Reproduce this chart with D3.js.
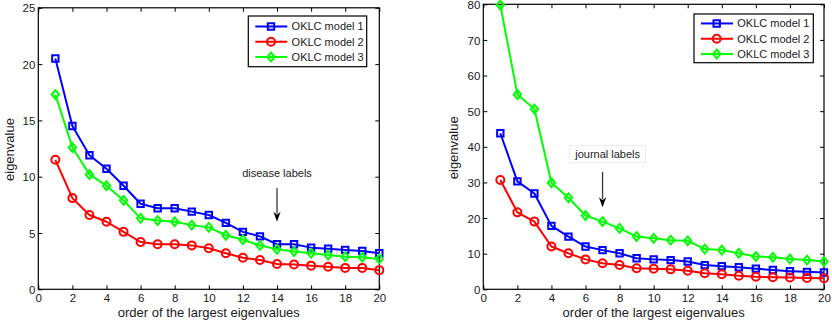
<!DOCTYPE html>
<html>
<head>
<meta charset="utf-8">
<script src="https://cdn.jsdelivr.net/npm/d3@7"></script>
<style>
  body { margin: 0; background: #fff; }
  svg { display: block; }
  text { font-family: "Liberation Sans", Arial, sans-serif; fill: #1a1a1a; }
</style>
</head>
<body>
<svg id="fig" width="832" height="326"></svg>
<script>
// Order of the eigenvalue (x axis) shared by both panels
const orders = [1, 2, 3, 4, 5, 6, 7, 8, 9, 10, 11, 12, 13, 14, 15, 16, 17, 18, 19, 20];
const xTickValues = [0, 2, 4, 6, 8, 10, 12, 14, 16, 18, 20];

// Disease-label eigenvalues
const diseaseModel1 = [20.5, 14.5, 11.9, 10.7, 9.2, 7.6, 7.2, 7.2, 6.9, 6.6, 5.9, 5.1, 4.7, 4.0, 4.0, 3.7, 3.6, 3.5, 3.4, 3.2];
const diseaseModel2 = [11.5, 8.1, 6.6, 6.0, 5.1, 4.2, 4.0, 4.0, 3.9, 3.65, 3.2, 2.8, 2.6, 2.25, 2.2, 2.1, 2.0, 1.9, 1.9, 1.7];
const diseaseModel3 = [17.3, 12.6, 10.2, 9.2, 7.9, 6.3, 6.1, 6.0, 5.7, 5.5, 4.8, 4.4, 3.9, 3.55, 3.35, 3.2, 3.05, 2.9, 2.85, 2.7];
const diseaseYTicks = [0, 5, 10, 15, 20, 25];

// Journal-label eigenvalues
const journalModel1 = [43.8, 30.3, 26.9, 17.8, 14.8, 12.0, 11.0, 10.1, 8.7, 8.4, 8.2, 7.8, 6.8, 6.5, 6.2, 5.8, 5.4, 5.1, 4.9, 4.7];
const journalModel2 = [30.7, 21.6, 19.0, 12.0, 10.1, 8.4, 7.3, 6.8, 5.9, 5.8, 5.6, 5.2, 4.5, 4.2, 3.8, 3.5, 3.4, 3.3, 3.2, 3.1];
const journalModel3 = [79.8, 54.7, 50.6, 29.9, 25.7, 20.7, 19.0, 17.1, 14.8, 14.3, 13.8, 13.6, 11.3, 11.0, 10.1, 9.2, 9.0, 8.5, 8.2, 7.8];
const journalYTicks = [0, 10, 20, 30, 40, 50, 60, 70, 80];

const seriesNames = ["OKLC model 1", "OKLC model 2", "OKLC model 3"];
const seriesColors = ["#0000ff", "#ff0000", "#00ff00"];
const seriesMarkers = ["square", "circle", "diamond"];

const xLabel = "order of the largest eigenvalues";
const yLabel = "eigenvalue";

const panels = [
  {
    values: [diseaseModel1, diseaseModel2, diseaseModel3],
    yMax: 25, yTicks: diseaseYTicks,
    box: { left: 38.3, right: 379.3, top: 7.8, bottom: 289.3 },
    legend: { x: 248.3, y: 16, w: 118.4, h: 50.7 },
    yLabelX: 13.5,
    note: { text: "disease labels", x: 14, textY: 10, tail: 9.0, tip: 6.0, framed: false }
  },
  {
    values: [journalModel1, journalModel2, journalModel3],
    yMax: 80, yTicks: journalYTicks,
    box: { left: 483.3, right: 824, top: 4.3, bottom: 289.3 },
    legend: { x: 694, y: 14, w: 119.3, h: 48.7 },
    yLabelX: 458,
    note: { text: "journal labels", x: 7, textX: 7.3, textY: 36.8, tail: 33.0, tip: 23.0, framed: true }
  }
];

const svg = d3.select("#fig");

function markerShape(sel, kind) {
  if (kind === "circle") {
    sel.append("circle").attr("r", 4);
  } else if (kind === "square") {
    sel.append("path").attr("d", "M-3.2,-3.2H3.2V3.2H-3.2Z");
  } else {
    sel.append("path").attr("d", "M0,-4.4L3.7,0L0,4.4L-3.7,0Z");
  }
}

panels.forEach(p => {
  const b = p.box;
  const x = d3.scaleLinear().domain([0, 20]).range([b.left, b.right]);
  const y = d3.scaleLinear().domain([0, p.yMax]).range([b.bottom, b.top]);
  const g = svg.append("g");

  // axes with inward ticks on all four sides
  const styleAxis = a => {
    a.select(".domain").remove();
    a.selectAll(".tick line").attr("stroke", "#000").attr("stroke-width", 1);
    a.attr("font-family", null).attr("font-size", null);
    a.selectAll(".tick text").attr("font-size", 11.5).style("fill", "#1a1a1a");
  };
  g.append("g").attr("transform", `translate(0,${b.bottom})`)
    .call(d3.axisBottom(x).tickValues(xTickValues).tickSizeInner(-4).tickSizeOuter(0).tickPadding(5))
    .call(styleAxis);
  g.append("g").attr("transform", `translate(0,${b.top})`)
    .call(d3.axisTop(x).tickValues(xTickValues).tickSizeInner(-4).tickSizeOuter(0).tickFormat(""))
    .call(styleAxis);
  g.append("g").attr("transform", `translate(${b.left},0)`)
    .call(d3.axisLeft(y).tickValues(p.yTicks).tickSizeInner(-4).tickSizeOuter(0).tickPadding(3))
    .call(styleAxis)
    .selectAll(".tick text").attr("dy", "0.36em");
  g.append("g").attr("transform", `translate(${b.right},0)`)
    .call(d3.axisRight(y).tickValues(p.yTicks).tickSizeInner(-4).tickSizeOuter(0).tickFormat(""))
    .call(styleAxis);

  g.append("rect")
    .attr("x", b.left).attr("y", b.top)
    .attr("width", b.right - b.left).attr("height", b.bottom - b.top)
    .attr("fill", "none").attr("stroke", "#000").attr("stroke-width", 1.2);

  // axis titles
  g.append("text")
    .attr("x", (b.left + b.right) / 2).attr("y", 317)
    .attr("text-anchor", "middle").attr("font-size", 13)
    .text(xLabel);
  g.append("text")
    .attr("transform", `translate(${p.yLabelX},${(b.top + b.bottom) / 2 + 1}) rotate(-90)`)
    .attr("text-anchor", "middle").attr("font-size", 13)
    .text(yLabel);

  // series
  const line = d3.line().x((d, i) => x(orders[i])).y(d => y(d));
  p.values.forEach((vals, s) => {
    const sg = g.append("g");
    sg.append("path").datum(vals).attr("d", line)
      .attr("fill", "none").attr("stroke", seriesColors[s]).attr("stroke-width", 2)
      .attr("stroke-linejoin", "round");
    sg.selectAll("g.mk").data(vals).join("g").attr("class", "mk")
      .attr("transform", (d, i) => `translate(${x(orders[i])},${y(d)})`)
      .each(function () { markerShape(d3.select(this), seriesMarkers[s]); })
      .selectAll("circle,path")
      .attr("fill", "none").attr("stroke", seriesColors[s]).attr("stroke-width", 2);
  });

  // annotation: text label with a downward arrow
  const n = p.note;
  const tx = x(n.textX !== undefined ? n.textX : n.x);
  const noteText = g.append("text")
    .attr("x", tx).attr("y", y(n.textY))
    .attr("text-anchor", "middle").attr("font-size", 11)
    .style("fill", "#222")
    .text(n.text);
  if (n.framed) {
    const bb = noteText.node().getBBox();
    g.insert("rect", () => noteText.node())
      .attr("x", bb.x - 5).attr("y", bb.y - 2.5)
      .attr("width", bb.width + 10).attr("height", bb.height + 5)
      .attr("fill", "#fff").attr("stroke", "#e8ecee").attr("stroke-width", 1);
  }
  const ax = x(n.x), yTail = y(n.tail), yTip = y(n.tip);
  const headLen = 10, headHalf = 3.6;
  g.append("line")
    .attr("x1", ax).attr("x2", ax).attr("y1", yTail).attr("y2", yTip - headLen + 2)
    .attr("stroke", "#3a3a3a").attr("stroke-width", 1.3);
  g.append("path")
    .attr("d", `M${ax},${yTip}L${ax - headHalf},${yTip - headLen}L${ax},${yTip - headLen + 3}L${ax + headHalf},${yTip - headLen}Z`)
    .attr("fill", "#000");

  // legend
  const L = p.legend;
  const lg = g.append("g");
  lg.append("rect").attr("x", L.x).attr("y", L.y).attr("width", L.w).attr("height", L.h)
    .attr("fill", "#fff").attr("stroke", "#000").attr("stroke-width", 1.2);
  seriesNames.forEach((name, s) => {
    const ry = L.y + L.h / 2 + (s - 1) * 15.3 + 0.4;
    lg.append("line").attr("x1", L.x + 7).attr("x2", L.x + 39).attr("y1", ry).attr("y2", ry)
      .attr("stroke", seriesColors[s]).attr("stroke-width", 2);
    const m = lg.append("g").attr("transform", `translate(${L.x + 22.7},${ry})`);
    markerShape(m, seriesMarkers[s]);
    m.selectAll("circle,path").attr("fill", "none").attr("stroke", seriesColors[s]).attr("stroke-width", 2);
    lg.append("text").attr("x", L.x + 43.3).attr("y", ry).attr("dy", "0.36em")
      .attr("font-size", 11).text(name);
  });
});
</script>
</body>
</html>
